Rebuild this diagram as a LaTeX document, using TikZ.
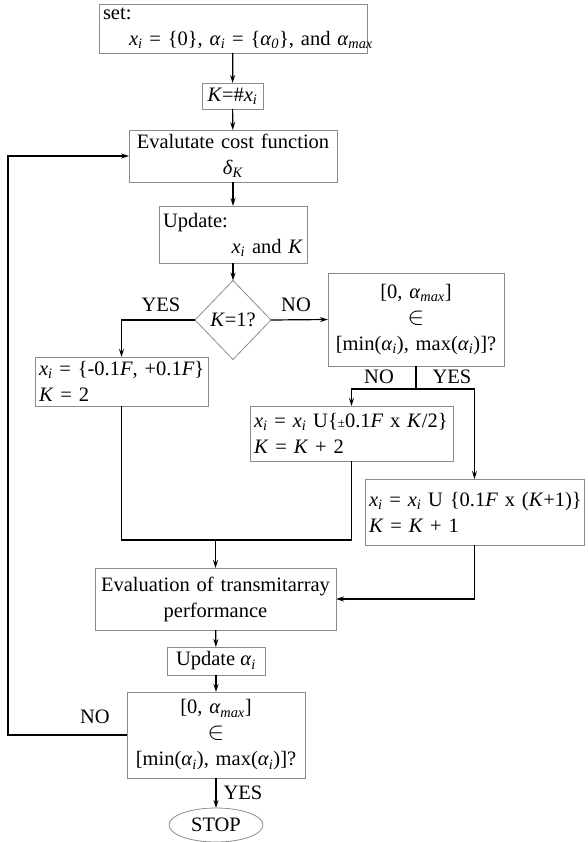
\documentclass[tikz,border=0pt]{standalone}
\usepackage{fontspec}
\setmainfont{Liberation Serif}
\usetikzlibrary{arrows.meta,shapes.geometric}

\newcommand{\xsub}{\textit{x}\textsubscript{\textit{i}}}
\newcommand{\asub}[1]{\textit{α}\textsubscript{\textit{#1}}}
\newcommand{\kk}{\textit{K}}
\newcommand{\ff}{\textit{F}}
\newcommand{\member}{{\fontsize{27pt}{26pt}\selectfont$\in$}}

\tikzset{
    box/.style = {
        draw=black!45,
        line width=0.8pt,
        anchor=north west,
        inner xsep=4pt,
        inner ysep=0pt,
        outer sep=0pt,
        font=\fontsize{20.5pt}{26pt}\selectfont,
    },
    decision/.style = {
        diamond,
        draw=black!45,
        line width=0.8pt,
        minimum width=76pt,
        minimum height=79pt,
        inner sep=0pt,
        outer sep=0pt,
        font=\fontsize{20.5pt}{26pt}\selectfont,
    },
    terminal/.style = {
        ellipse,
        draw=black!45,
        line width=0.8pt,
        minimum width=94pt,
        minimum height=34pt,
        inner sep=0pt,
        outer sep=0pt,
        font=\fontsize{20.5pt}{26pt}\selectfont,
    },
    tag/.style = {
        inner sep=0pt,
        font=\fontsize{20.5pt}{26pt}\selectfont,
    },
    wire/.style = {
        draw=black,
        line width=1.2pt,
    },
    flow/.style = {
        wire,
        -{Stealth[length=8pt,width=5pt]},
    },
}

\begin{document}
\begin{tikzpicture}[x=1pt,y=-1pt]

    \useasboundingbox (0,0) rectangle (587,842);

    % boxes
    \node[box, text width=260pt, minimum height=49pt, align=left] (init) at (99,4)
        {set:\\\hspace*{26pt}\mbox{\xsub{} = \{0\}, \asub{i} = \{\asub{0}\}, and \asub{max}}};
    \node[box, minimum width=61pt, minimum height=26pt] (keq) at (202,83)
        {\kk=\#\xsub};
    \node[box, text width=200pt, minimum height=52pt, align=center] (cost) at (129,130)
        {\mbox{Evalutate cost function}\\\textit{δ}\textsubscript{\textit{K}}};
    \node[box, text width=140pt, minimum height=57pt, align=left] (update) at (159,206)
        {Update:\\\hspace*{\fill}\xsub{} and \kk};
    \node[decision] (kone) at (233,320) {\kk=1?};
    \node[box, text width=168pt, minimum height=93pt, align=center] (cond) at (328,273)
        {{[}0, \asub{max}{]}\\\member\\\mbox{{[}min(\asub{i}), max(\asub{i}){]}?}};
    \node[box, text width=165pt, minimum height=49pt, align=left] (first) at (35,357)
        {\mbox{\xsub{} = \{-0.1\ff, +0.1\ff\}}\\\kk{} = 2};
    \node[box, text width=195pt, minimum height=55pt, align=left] (grow) at (250,406)
        {\mbox{\xsub{} = \xsub{} U\{{\fontsize{13pt}{13pt}\selectfont ±}0.1\ff{} x \kk/2\}}\\\kk{} = \kk{} + 2};
    \node[box, text width=211pt, minimum height=66pt, align=left] (add) at (365,479)
        {\mbox{\xsub{} = \xsub{} U \{0.1\ff{} x (\kk+1)\}}\\\kk{} = \kk{} + 1};
    \node[box, text width=233pt, minimum height=62pt, align=center] (eval) at (95,568)
        {\mbox{Evaluation of transmitarray}\\performance};
    \node[box, minimum width=98pt, minimum height=28pt] (upalpha) at (167,647)
        {Update \asub{i}};
    \node[box, text width=170pt, minimum height=86pt, align=center] (check) at (127,692)
        {{[}0, \asub{max}{]}\\\member\\\mbox{{[}min(\asub{i}), max(\asub{i}){]}?}};
    \node[terminal] (stop) at (216,825) {STOP};

    % branch labels
    \node[tag] (yesk) at (161,305) {YES};
    \node[tag] (nok) at (296,305) {NO};
    \node[tag] (nocond) at (379,377) {NO};
    \node[tag] (yescond) at (452,377) {YES};
    \node[tag] (noend) at (95,717) {NO};
    \node[tag] (yesend) at (243,793) {YES};

    \coordinate (split) at (416,389);
    \coordinate (join) at (215.5,540);
    \coordinate (back) at (8,0);

    % connectors
    \draw[flow] (init) -- (keq);
    \draw[flow] (keq) -- (cost);
    \draw[flow] (cost) -- (update);
    \draw[flow] (update) -- (kone);
    \draw[flow] (kone.west) -| (first.north);
    \draw[flow] (kone.east) -- (cond.west);
    \draw[wire] (cond.south) -- (split);
    \draw[flow] (split) -| (grow.north);
    \draw[flow] (split) -| (add.north);
    \draw[wire] (first.south) |- (join);
    \draw[wire] (grow.south) |- (join);
    \draw[flow] (join) -- (eval.north);
    \draw[flow] (add.south) |- (eval.east);
    \draw[flow] (eval) -- (upalpha);
    \draw[flow] (upalpha) -- (check);
    \draw[flow] (check.west) -- (check.west -| back) |- (cost.west);
    \draw[flow] (check) -- (stop);

\end{tikzpicture}
\end{document}
